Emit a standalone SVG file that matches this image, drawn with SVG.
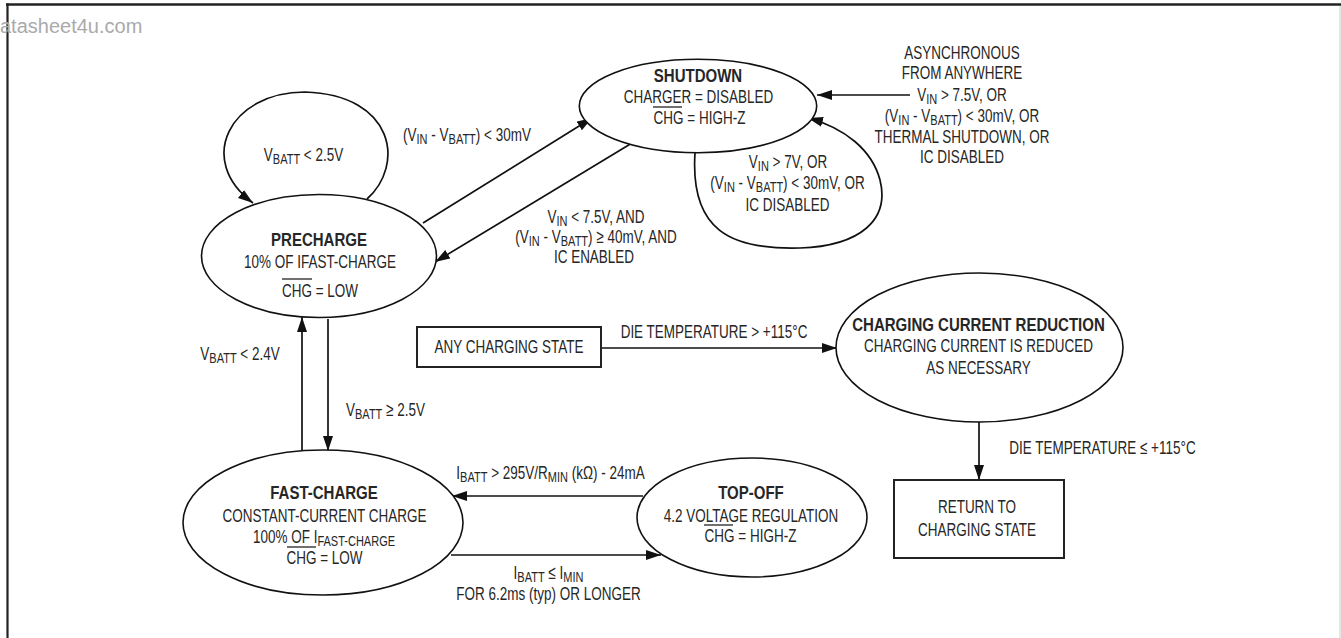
<svg xmlns="http://www.w3.org/2000/svg" width="1341" height="638" viewBox="0 0 1341 638">
<style>
.t{font-family:"Liberation Sans",Arial,sans-serif;font-size:19px;fill:#262626;text-anchor:middle}
.b{font-weight:bold}
.s{font-size:15.5px}
.n{fill:#fff;stroke:#111;stroke-width:1.6}
.bx{fill:#fff;stroke:#222;stroke-width:2}
.ol{stroke:#222;stroke-width:1.3}
.c{fill:none;stroke:#111;stroke-width:1.7;marker-end:url(#ah)}
</style>
<defs>
<marker id="ah" markerUnits="userSpaceOnUse" markerWidth="16" markerHeight="11" refX="15" refY="5" orient="auto">
<path d="M0,0 L15,5 L0,10 z" fill="#111"/>
</marker>
</defs>
<rect width="1341" height="638" fill="#fff"/>
<g id="frame">
<line x1="6" y1="4.5" x2="1341" y2="4.5" stroke="#222" stroke-width="2.5"/>
<line x1="7.5" y1="3.5" x2="7.5" y2="638" stroke="#222" stroke-width="2.2"/>
<line x1="1340" y1="6" x2="1340" y2="638" stroke="#ccc" stroke-width="1"/>
<text x="0" y="33" style="font-family:'Liberation Sans',Arial,sans-serif;font-size:20px;fill:#aaa">atasheet4u.com</text>
</g>
<g id="connectors">
<path class="c" d="M367,199 C405,165 395,95 305,92 C230,92 195,160 253,203"/>
<line class="c" x1="423" y1="223" x2="592" y2="118"/>
<line class="c" x1="632" y1="143" x2="435" y2="262"/>
<path class="c" d="M695,153 C690,230 730,250 800,248 C860,246 890,220 880,180 C872,150 845,128 808,118"/>
<line class="c" x1="910" y1="95" x2="817" y2="95"/>
<line class="c" x1="302" y1="451" x2="302" y2="317"/>
<line class="c" x1="328" y1="319" x2="328" y2="451"/>
<line class="c" x1="643" y1="496" x2="452" y2="496"/>
<line class="c" x1="451" y1="555" x2="661" y2="555"/>
<line class="c" x1="601" y1="348" x2="837" y2="348"/>
<line class="c" x1="979" y1="422" x2="979" y2="480"/>
</g>
<g id="labels">
<text class="t" transform="translate(303.5,161) scale(0.71,1)">V<tspan class="s" dy="3">BATT</tspan><tspan dy="-3"> &lt; 2.5V</tspan></text>
<text class="t" transform="translate(467,141) scale(0.71,1)">(V<tspan class="s" dy="3">IN</tspan><tspan dy="-3"> - V</tspan><tspan class="s" dy="3">BATT</tspan><tspan dy="-3">) &lt; 30mV</tspan></text>
<text class="t" transform="translate(596,223) scale(0.71,1)">V<tspan class="s" dy="3">IN</tspan><tspan dy="-3"> &lt; 7.5V, AND</tspan></text>
<text class="t" transform="translate(596,243) scale(0.71,1)">(V<tspan class="s" dy="3">IN</tspan><tspan dy="-3"> - V</tspan><tspan class="s" dy="3">BATT</tspan><tspan dy="-3">) ≥ 40mV, AND</tspan></text>
<text class="t" transform="translate(594,263) scale(0.71,1)">IC ENABLED</text>
<text class="t" transform="translate(962,59) scale(0.71,1)">ASYNCHRONOUS</text>
<text class="t" transform="translate(962,79) scale(0.71,1)">FROM ANYWHERE</text>
<text class="t" transform="translate(962,100.5) scale(0.71,1)">V<tspan class="s" dy="3">IN</tspan><tspan dy="-3"> &gt; 7.5V, OR</tspan></text>
<text class="t" transform="translate(962,121.5) scale(0.71,1)">(V<tspan class="s" dy="3">IN</tspan><tspan dy="-3"> - V</tspan><tspan class="s" dy="3">BATT</tspan><tspan dy="-3">) &lt; 30mV, OR</tspan></text>
<text class="t" transform="translate(962,142.5) scale(0.71,1)">THERMAL SHUTDOWN, OR</text>
<text class="t" transform="translate(962,163) scale(0.71,1)">IC DISABLED</text>
<text class="t" transform="translate(788,168) scale(0.71,1)">V<tspan class="s" dy="3">IN</tspan><tspan dy="-3"> &gt; 7V, OR</tspan></text>
<text class="t" transform="translate(787.5,189) scale(0.71,1)">(V<tspan class="s" dy="3">IN</tspan><tspan dy="-3"> - V</tspan><tspan class="s" dy="3">BATT</tspan><tspan dy="-3">) &lt; 30mV, OR</tspan></text>
<text class="t" transform="translate(787.5,211) scale(0.71,1)">IC DISABLED</text>
<text class="t" transform="translate(240,360) scale(0.71,1)">V<tspan class="s" dy="3">BATT</tspan><tspan dy="-3"> &lt; 2.4V</tspan></text>
<text class="t" transform="translate(385.5,416) scale(0.71,1)">V<tspan class="s" dy="3">BATT</tspan><tspan dy="-3"> ≥ 2.5V</tspan></text>
<text class="t" transform="translate(714,338) scale(0.71,1)">DIE TEMPERATURE &gt; +115°C</text>
<text class="t" transform="translate(550.5,479) scale(0.71,1)">I<tspan class="s" dy="3">BATT</tspan><tspan dy="-3"> &gt; 295V/R</tspan><tspan class="s" dy="3">MIN</tspan><tspan dy="-3"> (kΩ) - 24mA</tspan></text>
<text class="t" transform="translate(548.5,579) scale(0.71,1)">I<tspan class="s" dy="3">BATT</tspan><tspan dy="-3"> ≤ I</tspan><tspan class="s" dy="3">MIN</tspan></text>
<text class="t" transform="translate(548.5,600) scale(0.71,1)">FOR 6.2ms (typ) OR LONGER</text>
<text class="t" transform="translate(1102.5,454) scale(0.71,1)">DIE TEMPERATURE ≤ +115°C</text>
</g>
<g id="shutdown">
<ellipse class="n" cx="698" cy="106" rx="118.7" ry="46.7"/>
<text class="t b" transform="translate(698,82) scale(0.79,1)">SHUTDOWN</text>
<text class="t" transform="translate(698.5,103) scale(0.71,1)">CHARGER = DISABLED</text>
<text class="t" transform="translate(699.5,124) scale(0.71,1)">CHG = HIGH-Z</text>
<line class="ol" x1="653" y1="107" x2="682" y2="107"/>
</g>
<g id="precharge">
<ellipse class="n" cx="319" cy="256" rx="117.5" ry="61.5"/>
<text class="t b" transform="translate(319,246) scale(0.79,1)">PRECHARGE</text>
<text class="t" transform="translate(320,268) scale(0.71,1)">10% OF IFAST-CHARGE</text>
<text class="t" transform="translate(320,297) scale(0.71,1)">CHG = LOW</text>
<line class="ol" x1="282" y1="279" x2="312" y2="279"/>
</g>
<g id="fast-charge">
<ellipse class="n" cx="323" cy="522.5" rx="140" ry="72.5"/>
<text class="t b" transform="translate(324,499) scale(0.79,1)">FAST-CHARGE</text>
<text class="t" transform="translate(324.5,522) scale(0.71,1)">CONSTANT-CURRENT CHARGE</text>
<text class="t" transform="translate(324,543) scale(0.71,1)">100% OF I<tspan class="s" dy="3">FAST-CHARGE</tspan></text>
<text class="t" transform="translate(324.5,564) scale(0.71,1)">CHG = LOW</text>
<line class="ol" x1="287" y1="547" x2="316" y2="547"/>
</g>
<g id="top-off">
<ellipse class="n" cx="752" cy="517.5" rx="115" ry="59.5"/>
<text class="t b" transform="translate(751,499) scale(0.79,1)">TOP-OFF</text>
<text class="t" transform="translate(751,522) scale(0.71,1)">4.2 VOLTAGE REGULATION</text>
<text class="t" transform="translate(750.5,542) scale(0.71,1)">CHG = HIGH-Z</text>
<line class="ol" x1="704" y1="525" x2="733" y2="525"/>
</g>
<g id="any-charging-state">
<rect class="bx" x="417" y="327" width="184" height="40"/>
<text class="t" transform="translate(509,353) scale(0.71,1)">ANY CHARGING STATE</text>
</g>
<g id="charging-current-reduction">
<ellipse class="n" cx="979.5" cy="347.5" rx="143.5" ry="74.5"/>
<text class="t b" transform="translate(978.5,331) scale(0.79,1)">CHARGING CURRENT REDUCTION</text>
<text class="t" transform="translate(978.5,352) scale(0.71,1)">CHARGING CURRENT IS REDUCED</text>
<text class="t" transform="translate(978.5,374) scale(0.71,1)">AS NECESSARY</text>
</g>
<g id="return">
<rect class="bx" x="894" y="480" width="170" height="78"/>
<text class="t" transform="translate(977,513) scale(0.71,1)">RETURN TO</text>
<text class="t" transform="translate(977,536) scale(0.71,1)">CHARGING STATE</text>
</g>
</svg>
